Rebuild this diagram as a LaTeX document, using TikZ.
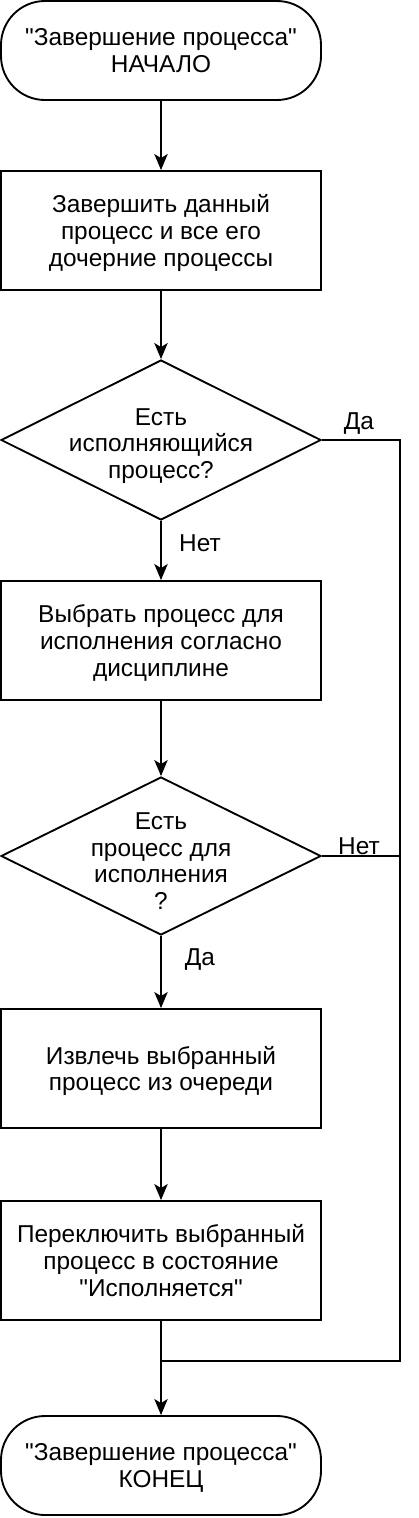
\documentclass[tikz,border=0pt]{standalone}
\usepackage{fontspec}
\setmainfont{Liberation Sans}[Ligatures=TeXOff]
\usetikzlibrary{shapes.geometric,arrows.meta}

\begin{document}
\begin{tikzpicture}[x=0.75pt,y=-0.75pt,
		line width=1.4pt,
		>={Stealth[length=12pt,width=10pt,inset=3pt]},
		font=\fontsize{18.3}{20}\selectfont,
		term/.style={draw,rounded corners=33pt,minimum width=240pt,minimum height=74.25pt,align=center,text depth=0pt},
		proc/.style={draw,minimum width=240pt,minimum height=89.25pt,align=center,text depth=0pt},
		cond/.style={draw,diamond,aspect=2,minimum width=240pt,minimum height=120pt,inner sep=0pt},
		condtext/.style={align=center,inner sep=0pt},
		lbl/.style={inner sep=0pt}]

		\useasboundingbox (0,0) rectangle (418,1518);

		\node[term] (start) at (161,50.5) {"Завершение процесса"\\НАЧАЛО};
		\node[proc] (kill) at (161,230.5) {Завершить данный\\процесс и все его\\дочерние процессы};
		\node[cond] (running) at (161,440) {};
		\node[condtext] (runningtext) at (161,446) {Есть\\исполняющийся\\процесс?};
		\node[proc] (choose) at (161,640.5) {Выбрать процесс для\\исполнения согласно\\дисциплине};
		\node[cond,minimum height=118.5pt] (ready) at (161,856) {};
		\node[condtext] (readytext) at (161,861) {Есть\\процесс для\\исполнения\\?};
		\node[proc] (extract) at (161,1068.5) {Извлечь выбранный\\процесс из очереди};
		\node[proc] (switch) at (161,1260.5) {Переключить выбранный\\процесс в состояние\\"Исполняется"};
		\node[term] (finish) at (161,1465.5) {"Завершение процесса"\\КОНЕЦ};

		\coordinate (rail) at (400,1361);
		\coordinate (join) at (161,1361);

		\draw[->] (start) -- (kill);
		\draw[->] (kill) -- (running);
		\draw[->] (running) -- (choose);
		\draw[->] (choose) -- (ready);
		\draw[->] (ready) -- (extract);
		\draw[->] (extract) -- (switch);
		\draw[->] (switch) -- (finish);

		\draw (running.east) -| (rail) -- (join);
		\draw (ready.east) -- (ready.east -| rail);

		\node[lbl] (yes1) at (359,424) {Да};
		\node[lbl] (no1) at (200,543) {Нет};
		\node[lbl] (no2) at (359,846) {Нет};
		\node[lbl] (yes2) at (200,960) {Да};

	\end{tikzpicture}
\end{document}
